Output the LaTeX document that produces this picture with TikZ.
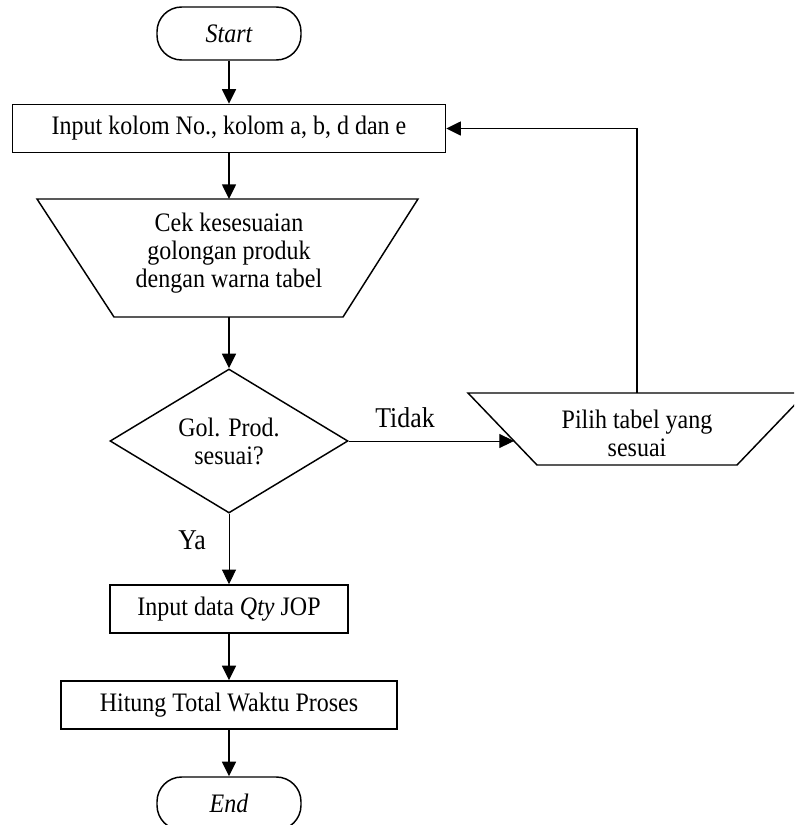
\documentclass[tikz,border=0pt]{standalone}
\usepackage{fontspec}
\setmainfont{Liberation Serif}[FakeStretch=0.9]
\usetikzlibrary{arrows.meta,shapes.geometric}
\begin{document}
\def\u{0.75pt}
\begin{tikzpicture}[x=0.75pt,y=-0.75pt,
  every node/.style={font=\fontsize{20}{21}\selectfont},
  shp/.style={draw, line width=1.1pt},
  box/.style={shp, rectangle, inner sep=0pt, minimum height=48*\u},
  term/.style={shp, rectangle, rounded corners=18.5pt, minimum width=144*\u, minimum height=53*\u, inner sep=0pt, font=\fontsize{20}{21}\selectfont\itshape},
  dec/.style={shp, diamond, aspect=1.65, inner sep=0pt, minimum width=238*\u, minimum height=144*\u, align=center},
  txt/.style={align=center, inner sep=0pt},
  arr/.style={line width=1.1pt, -{Triangle[length=11pt,width=10.5pt]}},
  thinarr/.style={line width=0.7pt, -{Triangle[length=11pt,width=10.5pt]}},
  lbl/.style={font=\fontsize{21.5}{23}\selectfont, inner sep=0pt}
]
\useasboundingbox (0,0) rectangle (794,825);
\clip (0,0) rectangle (794,825);

% nodes
\node[term] (start) at (229,33.5) {Start};
\node[box, minimum width=433*\u] (in1) at (229,128.5) {Input kolom No., kolom a, b, d dan e};

\draw[shp] (37,199) -- (418,199) -- (343,317) -- (114,317) -- cycle;
\coordinate (trapT) at (229,199);
\coordinate (trapB) at (229,317);
\node[txt] (cek) at (229,253) {Cek kesesuaian\\golongan produk\\dengan warna tabel};

\node[dec] (dec) at (229,441) {Gol. Prod.\\sesuai?};

\draw[shp] (468,393) -- (806,393) -- (737,465) -- (537,465) -- cycle;
\coordinate (pT) at (637,393);
\coordinate (pL) at (514,441);
\node[txt] (pilih) at (637,433) {Pilih tabel yang\\sesuai};

\node[box, minimum width=238*\u] (qty) at (229,609) {Input data \textit{Qty} JOP};
\node[box, minimum width=336*\u] (tot) at (229,705) {Hitung Total Waktu Proses};
\node[term] (end) at (229,803.5) {End};

\node[lbl] (tidak) at (405,418) {Tidak};
\node[lbl] (ya) at (192,540) {Ya};

% connectors
\draw[arr] (start.south) -- (in1.north);
\draw[arr] (in1.south) -- (trapT);
\draw[arr] (trapB) -- (dec.north);
\draw[thinarr] (dec.south) -- (qty.north);
\draw[thinarr] (dec.east) -- (pL);
\draw[arr] (pT) |- (in1.east);
\draw[arr] (qty.south) -- (tot.north);
\draw[arr] (tot.south) -- (end.north);
\end{tikzpicture}
\end{document}
